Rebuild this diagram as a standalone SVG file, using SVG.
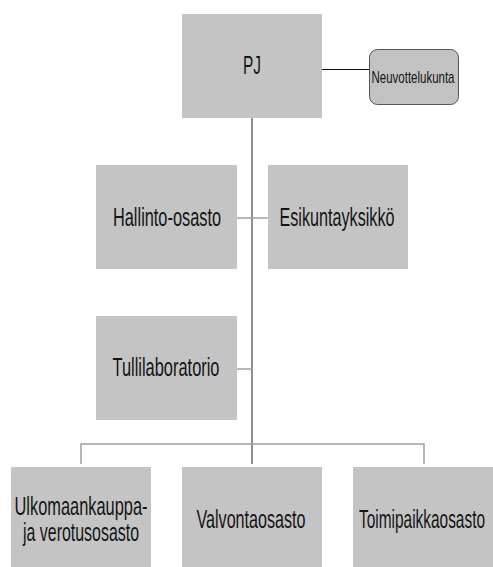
<svg xmlns="http://www.w3.org/2000/svg" width="493" height="567" viewBox="0 0 493 567">
<style>
.box{fill:#c4c4c4;}
.rbox{fill:#c2c2c2;stroke:#555;stroke-width:1;}
.t{font-family:"Liberation Sans",Arial,sans-serif;font-size:25px;fill:#141414;text-anchor:middle;}
.ts{font-family:"Liberation Sans",Arial,sans-serif;font-size:17px;fill:#141414;text-anchor:middle;}
.c{stroke:#8e8e8e;stroke-width:2;fill:none;}
.cl{stroke:#a0a0a0;stroke-width:1.5;fill:none;}
.ck{stroke:#111;stroke-width:1;fill:none;}
</style>
<rect width="493" height="567" fill="#fff"/>
<g id="connectors">
<line class="c" x1="252" y1="118" x2="252" y2="464"/>
<line class="ck" x1="322" y1="69.5" x2="369" y2="69.5"/>
<line class="cl" x1="237" y1="218" x2="268" y2="218"/>
<line class="cl" x1="237" y1="369" x2="252" y2="369"/>
<polyline class="cl" points="81,464 81,444 424,444 424,464"/>
</g>
<g id="pj">
<rect class="box" x="182" y="14" width="140" height="104"/>
<text class="t" x="252" y="74" textLength="18" lengthAdjust="spacingAndGlyphs">PJ</text>
</g>
<g id="neuvottelukunta">
<rect class="rbox" x="369.5" y="49.5" width="89" height="55" rx="8"/>
<text class="ts" x="413" y="83" textLength="83" lengthAdjust="spacingAndGlyphs">Neuvottelukunta</text>
</g>
<g id="hallinto">
<rect class="box" x="96" y="165" width="141" height="104"/>
<text class="t" x="167" y="226" textLength="108" lengthAdjust="spacingAndGlyphs">Hallinto-osasto</text>
</g>
<g id="esikunta">
<rect class="box" x="268" y="165" width="140" height="104"/>
<text class="t" x="337" y="226" textLength="115" lengthAdjust="spacingAndGlyphs">Esikuntayksikkö</text>
</g>
<g id="tullilaboratorio">
<rect class="box" x="96" y="316" width="141" height="104"/>
<text class="t" x="166" y="376" textLength="107" lengthAdjust="spacingAndGlyphs">Tullilaboratorio</text>
</g>
<g id="ulkomaankauppa">
<rect class="box" x="11" y="467" width="140" height="100"/>
<text class="t" x="81" y="515" textLength="133" lengthAdjust="spacingAndGlyphs">Ulkomaankauppa-</text>
<text class="t" x="81" y="541" textLength="116" lengthAdjust="spacingAndGlyphs">ja verotusosasto</text>
</g>
<g id="valvonta">
<rect class="box" x="182" y="467" width="140" height="100"/>
<text class="t" x="251" y="528" textLength="109" lengthAdjust="spacingAndGlyphs">Valvontaosasto</text>
</g>
<g id="toimipaikka">
<rect class="box" x="353" y="467" width="140" height="100"/>
<text class="t" x="422" y="528" textLength="126" lengthAdjust="spacingAndGlyphs">Toimipaikkaosasto</text>
</g>
</svg>
